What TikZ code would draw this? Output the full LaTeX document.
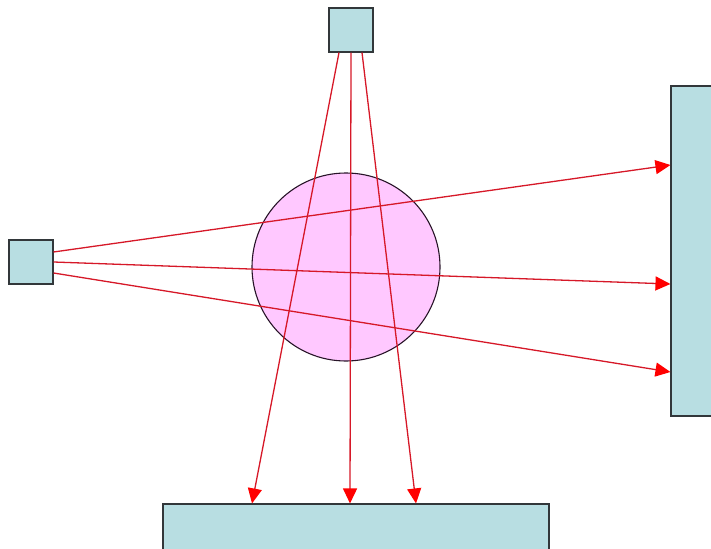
\documentclass[tikz,border=0pt]{standalone}
\usetikzlibrary{arrows.meta}
\definecolor{boxfill}{RGB}{184,222,226}
\definecolor{ballfill}{RGB}{255,200,255}
\definecolor{raycol}{RGB}{214,24,40}
\begin{document}
\begin{tikzpicture}[x=1pt,y=-1pt,
  box/.style={draw={rgb,255:red,50;green,55;blue,58},line width=1.1pt,fill=boxfill,inner sep=0pt},
  ray/.style={draw=raycol,line width=1.3pt,-{Triangle[length=15pt,width=14pt,fill=red,color=red]}}]
  % Display coordinates: pixels, y downwards.
  \useasboundingbox (0,0) rectangle (711,548);

  % Sources.
  \node[box,minimum width=44pt,minimum height=44pt] (srctop) at (351,30) {};
  \node[box,minimum width=44pt,minimum height=44pt] (srcleft) at (31,262) {};

  % Detectors.
  \node[box,minimum width=60pt,minimum height=330pt] (detright) at (701,251) {};
  \node[box,minimum width=386pt,minimum height=60pt] (detbottom) at (356,534) {};

  % Object.
  \node[draw={rgb,255:red,40;green,20;blue,40},line width=1.1pt,fill=ballfill,circle,
    minimum size=188pt,inner sep=0pt] (ball) at (346,267) {};

  % Rays from the top source.
  \draw[ray] ([xshift=-12pt]srctop.south) -- ([xshift=-104pt]detbottom.north);
  \draw[ray] (srctop.south) -- ([xshift=-6pt]detbottom.north);
  \draw[ray] ([xshift=11pt]srctop.south) -- ([xshift=60pt]detbottom.north);

  % Rays from the left source.
  \draw[ray] ([yshift=10pt]srcleft.east) -- ([yshift=86pt]detright.west);
  \draw[ray] (srcleft.east) -- ([yshift=-33pt]detright.west);
  \draw[ray] ([yshift=-11pt]srcleft.east) -- ([yshift=-121pt]detright.west);
\end{tikzpicture}
\end{document}
